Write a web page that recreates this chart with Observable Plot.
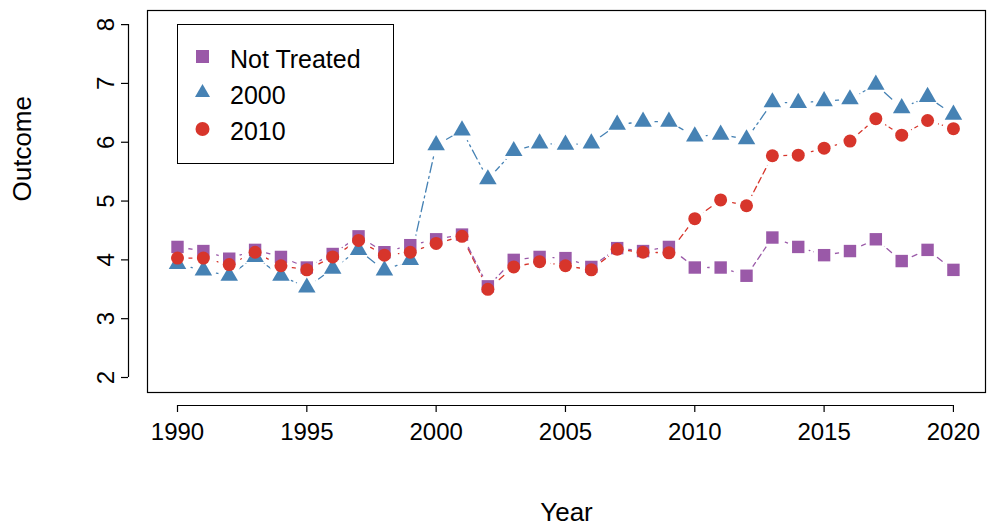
<!DOCTYPE html>
<html><head>
<script src="https://cdn.jsdelivr.net/npm/d3@7"></script>
<script src="https://cdn.jsdelivr.net/npm/@observablehq/plot@0.6"></script>
<style>
body{margin:0;background:#fff;font-family:"Liberation Sans",Arial,sans-serif}
#wrap{position:relative;width:989px;height:529px}
#legend{position:absolute;left:177px;top:24px;width:215px;height:138px;border:1.5px solid #000;background:#fff;font-size:25px}
#legend div{position:absolute;left:52px}
</style></head><body>
<div id="wrap"><div id="chart"></div>
<div id="legend">
<svg width="215" height="138" style="position:absolute;left:0;top:0">
<rect x="18" y="25" width="13" height="13" fill="#9A59A8"/>
<path d="M24.5,59 L32,72 L17,72Z" fill="#4682B4"/>
<circle cx="24.5" cy="104" r="7" fill="#D7352B"/>
</svg>
<div style="top:20px">Not Treated</div><div style="top:56px">2000</div><div style="top:92px">2010</div>
</div></div>
<script>
const years = d3.range(1990, 2021)
const notTreated = [4.22,4.15,4.02,4.17,4.05,3.87,4.1,4.4,4.13,4.25,4.35,4.43,3.55,4.0,4.05,4.03,3.88,4.2,4.15,4.22,3.87,3.87,3.73,4.38,4.22,4.08,4.15,4.35,3.98,4.17,3.83]
const treated2000 = [3.93,3.82,3.73,4.05,3.73,3.53,3.85,4.17,3.82,4.0,5.95,6.2,5.37,5.85,5.98,5.96,5.98,6.3,6.35,6.35,6.1,6.13,6.05,6.68,6.67,6.7,6.73,6.98,6.58,6.77,6.47]
const treated2010 = [4.03,4.03,3.92,4.13,3.9,3.83,4.05,4.33,4.08,4.13,4.28,4.4,3.5,3.88,3.97,3.9,3.83,4.18,4.13,4.12,4.7,5.02,4.92,5.77,5.78,5.9,6.02,6.4,6.12,6.37,6.23]
const yTicks = [2,3,4,5,6,7,8]
const xTicks = [1990,1995,2000,2005,2010,2015,2020]
const mk = (vals, s) => years.map((x,i) => ({x, y: vals[i], s}))
const dNT = mk(notTreated,"nt"), d00 = mk(treated2000,"2000"), d10 = mk(treated2010,"2010")
const xd = [1988.84, 2021.24], yd = [1.745, 8.24]
const halo = d => Plot.dot(d, {x:"x", y:"y", r:11, fill:"white"})
const chart = Plot.plot({
  width: 989, height: 529,
  marginLeft: 147, marginRight: 4, marginTop: 10, marginBottom: 137,
  style: {fontSize: "24px", fontFamily: "Liberation Sans, Arial, sans-serif", color:"#000"},
  x: {domain: xd, axis: null},
  y: {domain: yd, axis: null},
  marks: [
    Plot.line(d00, {x:"x", y:"y", stroke:"#4682B4", strokeWidth:1.3, strokeDasharray:"10,4,2,4"}),
    Plot.line(d10, {x:"x", y:"y", stroke:"#D7352B", strokeWidth:1.3, strokeDasharray:"6,4"}),
    Plot.line(dNT, {x:"x", y:"y", stroke:"#9A59A8", strokeWidth:1.3, strokeDasharray:"6,4"}),
    halo(d00), halo(d10), halo(dNT),
    Plot.frame({stroke:"#000", strokeWidth:1.2}),
    Plot.dot(dNT, {x:"x", y:"y", symbol:"square", r:7, fill:"#9A59A8"}),
    Plot.dot(d00, {x:"x", y:"y", symbol:"triangle", r:6.5, fill:"#4682B4"}),
    Plot.dot(d10, {x:"x", y:"y", symbol:"circle", r:6.5, fill:"#D7352B"}),
    Plot.ruleX([xd[0]], {y1: 2, y2: 8, dx: -19, strokeWidth:1.2}),
    Plot.axisY(yTicks, {anchor:"left", dx:-19, tickSize:7, tickRotate:-90, tickPadding:8, tickFormat:d=>String(d), label:null, fontSize:24, strokeWidth:1.2}),
    Plot.ruleY([yd[0]], {x1: 1990, x2: 2020, dy: 13, strokeWidth:1.2}),
    Plot.axisX(xTicks, {anchor:"bottom", dy:13, tickSize:7, tickPadding:10, tickFormat:d=>String(d), label:null, fontSize:24, strokeWidth:1.2}),
    Plot.text(["Year"], {frameAnchor:"bottom", dy:128, fontSize:26}),
    Plot.text(["Outcome"], {frameAnchor:"left", dx:-125, rotate:-90, fontSize:26})
  ]
})
d3.select('#chart').append(() => chart)
</script></body></html>
